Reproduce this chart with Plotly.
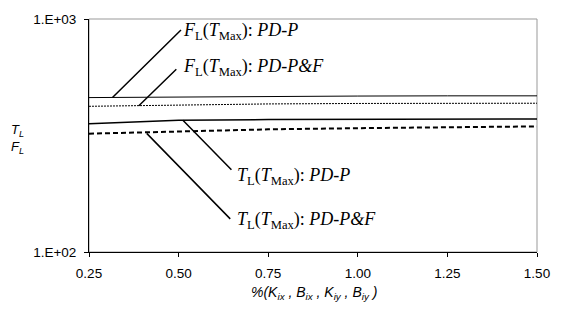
import plotly.graph_objects as go
import numpy as np

x_vals = [0.25, 0.50, 0.75, 1.00, 1.25, 1.50]
fl_pdp = [460, 463, 465, 467, 468, 468]
fl_pdpf = [422, 428, 432, 434, 435, 435]
tl_pdp = [355, 368, 370, 371, 372, 372]
tl_pdpf = [322, 330, 336, 340, 343, 346]
y_tickvals = [100, 1000]
y_ticktext = ["1.E+02", "1.E+03"]
x_tickvals = [0.25, 0.50, 0.75, 1.00, 1.25, 1.50]
x_ticktext = ["0.25", "0.50", "0.75", "1.00", "1.25", "1.50"]

fig = go.Figure()
fig.add_trace(go.Scatter(x=x_vals, y=fl_pdp, mode="lines", line=dict(color="black", width=1), name="F_L PD-P"))
fig.add_trace(go.Scatter(x=x_vals, y=fl_pdpf, mode="lines", line=dict(color="black", width=1, dash="2px,1px"), name="F_L PD-P&F"))
fig.add_trace(go.Scatter(x=x_vals, y=tl_pdp, mode="lines", line=dict(color="black", width=1.5), name="T_L PD-P"))
fig.add_trace(go.Scatter(x=x_vals, y=tl_pdpf, mode="lines", line=dict(color="black", width=2, dash="5px,3px"), name="T_L PD-P&F"))

serif = dict(family="Liberation Serif", size=18, color="black")
labels = [
    (0.3155, fl_pdp[0], 70, -69, "<i>F</i><sub>L</sub>(<i>T</i><sub>Max</sub>): <i>PD-P</i>", 183, 25),
    (0.389, fl_pdpf[0] + 2, 39, -38, "<i>F</i><sub>L</sub>(<i>T</i><sub>Max</sub>): <i>PD-P&amp;F</i>", 183, 62),
    (0.512, tl_pdp[1], 50, 51, "<i>T</i><sub>L</sub>(<i>T</i><sub>Max</sub>): <i>PD-P</i>", 238, 174),
    (0.411, 323, 85, 87, "<i>T</i><sub>L</sub>(<i>T</i><sub>Max</sub>): <i>PD-P&amp;F</i>", 238, 220),
]
L, R, T, B = 89, 547, 12, 252
anns = []
for hx, hy, ax, ay, txt, tx, ty in labels:
    anns.append(dict(x=hx, y=np.log10(hy), xref="x", yref="y", text="", showarrow=True,
                     arrowhead=0, arrowwidth=1.5, arrowcolor="black", ax=ax, ay=ay, standoff=0, startstandoff=0))
    anns.append(dict(x=(tx - L) / (R - L), y=(B - ty) / (B - T), xref="paper", yref="paper",
                     text=txt, showarrow=False, xanchor="left", yanchor="middle", font=serif))

anns.append(dict(x=(7 - L) / (R - L), y=(B - 136) / (B - T), xref="paper", yref="paper",
                 text="<i>T</i><sub><i>L</i></sub><br><i>F</i><sub><i>L</i></sub>", showarrow=False, align="left",
                 xanchor="left", yanchor="middle",
                 font=dict(family="Liberation Sans", size=13, color="black")))
anns.append(dict(x=(319 - L) / (R - L), y=(B - 306) / (B - T), xref="paper", yref="paper",
                 text="<i>%(K</i><sub><i>ix</i></sub><i> , B</i><sub><i>ix</i></sub><i> , K</i><sub><i>iy</i></sub><i> , B</i><sub><i>iy</i></sub><i> )</i>",
                 showarrow=False, font=dict(family="Liberation Sans", size=14, color="black")))

fig.update_layout(
    width=562, height=320,
    margin=dict(l=L, r=562 - R, t=T, b=320 - B),
    paper_bgcolor="white", plot_bgcolor="white",
    showlegend=False,
    annotations=anns,
    shapes=[dict(type="rect", xref="paper", yref="paper", x0=0, y0=0, x1=1, y1=1,
                 line=dict(color="#999999", width=1), layer="below")],
    font=dict(family="Liberation Sans", size=13, color="black"),
)
fig.update_xaxes(range=[0.25, 1.5], tickvals=x_tickvals, ticktext=x_ticktext, showgrid=False, zeroline=False,
                 showline=True, linecolor="black", linewidth=1, ticks="outside", ticklen=4, tickcolor="black",
                 ticklabelstandoff=5, tickfont=dict(family="Liberation Sans", size=13.5))
fig.update_yaxes(type="log", range=[2, 3], tickvals=y_tickvals, ticktext=y_ticktext, showgrid=False, zeroline=False,
                 showline=True, linecolor="black", linewidth=1, ticks="outside", ticklen=4, tickcolor="black",
                 ticklabelstandoff=5, tickfont=dict(family="Liberation Sans", size=13.5))
fig.write_html("out.html")
